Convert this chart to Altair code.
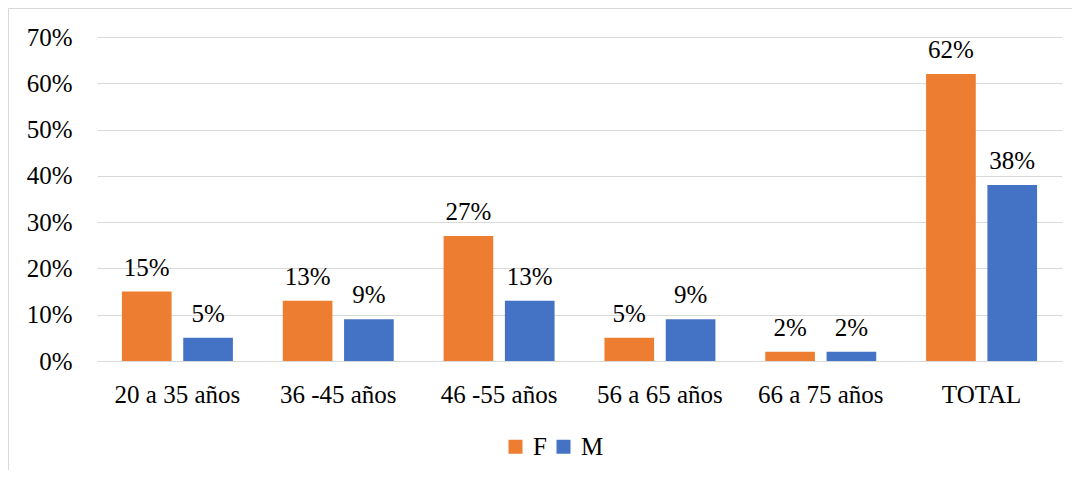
import altair as alt
import pandas as pd

categories = ["20 a 35 años", "36 -45 años", "46 -55 años", "56 a 65 años", "66 a 75 años", "TOTAL"]
series = ["F", "M"]
f_values = [0.15, 0.13, 0.27, 0.05, 0.02, 0.62]
m_values = [0.05, 0.09, 0.13, 0.09, 0.02, 0.38]
colors = ["#ED7D31", "#4472C4"]
y_ticks = [0, 0.1, 0.2, 0.3, 0.4, 0.5, 0.6, 0.7]

rows = []
for c, fv, mv in zip(categories, f_values, m_values):
    rows.append({"cat": c, "sex": "F", "val": fv})
    rows.append({"cat": c, "sex": "M", "val": mv})
df = pd.DataFrame(rows)

FONT = "Liberation Serif"

x_enc = alt.X("cat:N", sort=categories,
              scale=alt.Scale(paddingInner=0.31, paddingOuter=0.155),
              axis=alt.Axis(title=None, labelAngle=0, domain=False, ticks=False, tickSize=0,
                            labelPadding=21, grid=False))
xo_enc = alt.XOffset("sex:N", sort=series, scale=alt.Scale(paddingInner=0.19, paddingOuter=0))
y_enc = alt.Y("val:Q", scale=alt.Scale(domain=[0, 0.7]),
              axis=alt.Axis(title=None, format=".0%", values=y_ticks, domain=False, ticks=False,
                            tickSize=0, labelPadding=25, grid=True, gridColor="#d9d9d9",
                            gridWidth=1))

base = alt.Chart(df)

bars = base.mark_bar().encode(
    x=x_enc,
    xOffset=xo_enc,
    y=y_enc,
    color=alt.Color("sex:N", sort=series,
                    scale=alt.Scale(domain=series, range=colors),
                    legend=alt.Legend(title=None, orient="none", legendX=406, legendY=397,
                                      direction="horizontal", symbolType="square",
                                      symbolSize=196, symbolStrokeWidth=0,
                                      labelFontSize=25, labelFont=FONT, labelColor="#000000",
                                      columnPadding=4, labelOffset=5, padding=0)),
)

labels = base.mark_text(dy=-16, baseline="alphabetic", fontSize=25, font=FONT,
                        color="#000000").encode(
    x=alt.X("cat:N", sort=categories),
    xOffset=alt.XOffset("sex:N", sort=series),
    y="val:Q",
    text=alt.Text("val:Q", format=".0%"),
)

frame = alt.Chart(pd.DataFrame({"a": [0]})).mark_rect(
    fillOpacity=0, stroke="#d9d9d9", strokeWidth=1, clip=False
).encode(
    x=alt.value(-88.5), x2=alt.value(2000),
    y=alt.value(-28.5), y2=alt.value(2000),
)

chart = alt.layer(frame, bars, labels).properties(
    width=965, height=324,
    autosize=alt.AutoSizeParams(type="none"),
    padding={"left": 89, "top": 29, "right": 10, "bottom": 109},
).configure_view(strokeWidth=0).configure_axis(
    labelFont=FONT, labelFontSize=25, labelColor="#000000"
)

chart.save("out.html", embed_options={"renderer": "svg", "actions": False})
